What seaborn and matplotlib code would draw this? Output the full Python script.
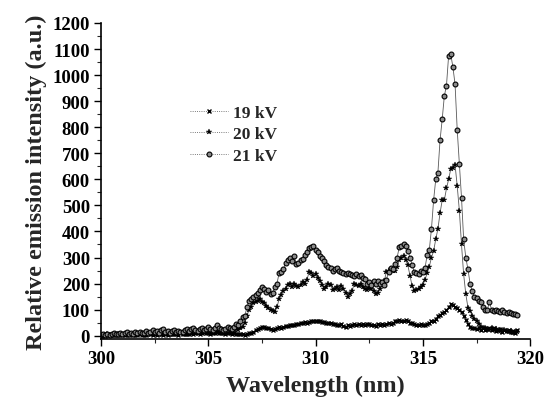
import numpy as np
import pandas as pd
import matplotlib
matplotlib.use("Agg")
import matplotlib.pyplot as plt
from matplotlib.ticker import MultipleLocator
import seaborn as sns

# wavelength grid of the spectrometer (0.1 nm steps, 300.0 - 319.4 nm)
wavelength = np.round(np.linspace(300.0, 319.4, 195), 1)

kv19 = [
    0, 2, 0, 3, 1, 2, 4, 1, 3, 2,
    3, 1, 4, 2, 5, 3, 2, 4, 6, 3,
    4, 2, 5, 7, 3, 6, 4, 8, 5, 3,
    6, 4, 7, 5, 8, 6, 4, 9, 7, 5,
    8, 6, 10, 7, 9, 12, 8, 10, 13, 9,
    11, 8, 12, 10, 14, 9, 12, 10, 8, 11,
    9, 7, 10, 6, 8, 5, 7, 4, 6, 10,
    12, 15, 20, 25, 30, 35, 32, 28, 30, 25,
    22, 26, 28, 32, 30, 35, 38, 36, 40, 42,
    40, 44, 46, 48, 50, 52, 50, 54, 56, 55,
    58, 55, 56, 52, 54, 50, 48, 50, 45, 46,
    42, 40, 44, 38, 35, 40, 38, 42, 45, 40,
    44, 42, 45, 40, 43, 46, 40, 42, 38, 44,
    42, 45, 40, 46, 48, 45, 50, 55, 58, 60,
    58, 56, 60, 55, 50, 48, 45, 42, 40, 44,
    40, 42, 45, 50, 55, 58, 65, 75, 80, 88,
    90, 100, 110, 120, 118, 112, 108, 100, 90, 75,
    60, 45, 35, 30, 28, 25, 30, 22, 28, 20,
    25, 30, 20, 28, 18, 22, 25, 15, 20, 18,
    22, 15, 18, 12, 20,
]

kv20 = [
    0, 3, 1, 5, 2, 4, 7, 3, 5, 8,
    4, 6, 9, 5, 8, 4, 10, 7, 11, 6,
    8, 12, 7, 10, 15, 9, 12, 8, 14, 17,
    10, 13, 8, 12, 15, 11, 13, 9, 12, 15,
    17, 13, 19, 21, 15, 13, 18, 20, 14, 18,
    22, 16, 14, 19, 25, 20, 17, 15, 18, 22,
    18, 16, 20, 24, 22, 28, 35, 50, 75, 100,
    110, 125, 130, 135, 140, 130, 125, 115, 105, 100,
    95, 90, 110, 140, 155, 170, 180, 195, 200, 185,
    200, 190, 185, 195, 205, 200, 215, 245, 240, 230,
    235, 220, 210, 195, 180, 185, 200, 195, 175, 180,
    185, 175, 190, 180, 165, 150, 160, 170, 200, 195,
    190, 200, 185, 180, 175, 182, 178, 170, 160, 165,
    180, 200, 210, 245, 250, 255, 250, 248, 265, 290,
    300, 305, 290, 270, 230, 190, 170, 175, 180, 185,
    195, 215, 240, 265, 300, 325, 370, 410, 470, 520,
    520, 565, 600, 640, 645, 655, 575, 480, 350, 235,
    160, 108, 95, 77, 65, 56, 45, 35, 30, 28,
    25, 22, 30, 20, 25, 18, 22, 15, 20, 17,
    14, 18, 12, 16, 15,
]

kv21 = [
    2, 5, 3, 8, 4, 6, 10, 5, 7, 12,
    6, 9, 14, 8, 11, 7, 13, 10, 16, 9,
    12, 18, 10, 15, 22, 13, 17, 11, 20, 25,
    14, 19, 12, 17, 21, 15, 18, 13, 16, 20,
    24, 18, 27, 30, 22, 19, 25, 28, 20, 26,
    32, 24, 21, 28, 40, 30, 25, 22, 27, 33,
    29, 26, 35, 45, 42, 55, 70, 75, 110, 135,
    140, 150, 155, 165, 175, 185, 180, 168, 175, 160,
    165, 185, 200, 240, 245, 255, 280, 290, 300, 285,
    305, 275, 280, 290, 295, 310, 320, 335, 340, 345,
    330, 320, 305, 300, 285, 270, 265, 260, 250, 255,
    260, 250, 245, 240, 238, 242, 235, 232, 230, 236,
    228, 232, 222, 218, 200, 205, 195, 208, 200, 210,
    198, 205, 195, 215, 245, 260, 255, 275, 300, 340,
    345, 350, 345, 325, 300, 270, 245, 240, 238, 250,
    245, 260, 310, 330, 410, 520, 600, 625, 750, 830,
    920, 960, 1075, 1080, 1030, 965, 790, 660, 530, 370,
    300, 255, 200, 170, 150, 145, 135, 130, 110, 100,
    98, 130, 100, 96, 100, 95, 92, 97, 90, 88,
    92, 86, 84, 82, 80,
]

labels = ["19 kV", "20 kV", "21 kV"]
markers = ["x", "*", "o"]

sns.set_style("ticks")
plt.rcParams["font.family"] = ["Liberation Serif", "DejaVu Serif"]
plt.rcParams["font.weight"] = "bold"

fig = plt.figure(figsize=(5.46, 4.06), dpi=100)
ax = fig.add_axes([0.185, 0.163, 0.786, 0.778])

for vals, lab, mk in zip([kv19, kv20, kv21], labels, markers):
    df = pd.DataFrame({"wavelength": wavelength, "intensity": vals})
    if mk == "o":
        kw = dict(markersize=3.5, markerfacecolor="0.55", markeredgecolor="black", markeredgewidth=0.8)
    elif mk == "x":
        kw = dict(markersize=3.0, markeredgecolor="black", markeredgewidth=1.0)
    else:
        kw = dict(markersize=4.2, markerfacecolor="black", markeredgecolor="black", markeredgewidth=0.3)
    sns.lineplot(data=df, x="wavelength", y="intensity", ax=ax, marker=mk,
                 color="0.35", linewidth=0.6, label=lab, **kw)

ax.set_xlim(300, 320)
ax.set_ylim(-12, 1200)
ax.xaxis.set_major_locator(MultipleLocator(5))
ax.xaxis.set_minor_locator(MultipleLocator(2.5))
ax.yaxis.set_major_locator(MultipleLocator(100))
ax.yaxis.set_minor_locator(MultipleLocator(50))
ax.tick_params(which="major", direction="out", length=5, width=1, labelsize=13.5,
               colors="black", pad=3)
ax.tick_params(which="minor", direction="out", length=3, width=0.8)
for lbl in ax.get_xticklabels() + ax.get_yticklabels():
    lbl.set_fontweight("bold")

sns.despine(ax=ax)
for s in ["left", "bottom"]:
    ax.spines[s].set_linewidth(1.2)
    ax.spines[s].set_color("black")

ax.set_xlabel("Wavelength (nm)", fontsize=17.5, fontweight="bold", labelpad=6)
ax.set_ylabel("Relative emission intensity (a.u.)", fontsize=17.5, fontweight="bold", labelpad=4)

leg = ax.legend(loc="upper left", bbox_to_anchor=(0.17, 0.79), frameon=False,
                handlelength=2.2, labelspacing=0.3, handletextpad=0.3,
                prop={"weight": "bold", "size": 12.5})
for line in leg.get_lines():
    line.set_linestyle(":")
    line.set_color("0.3")

fig.savefig("out.png", dpi=100)
